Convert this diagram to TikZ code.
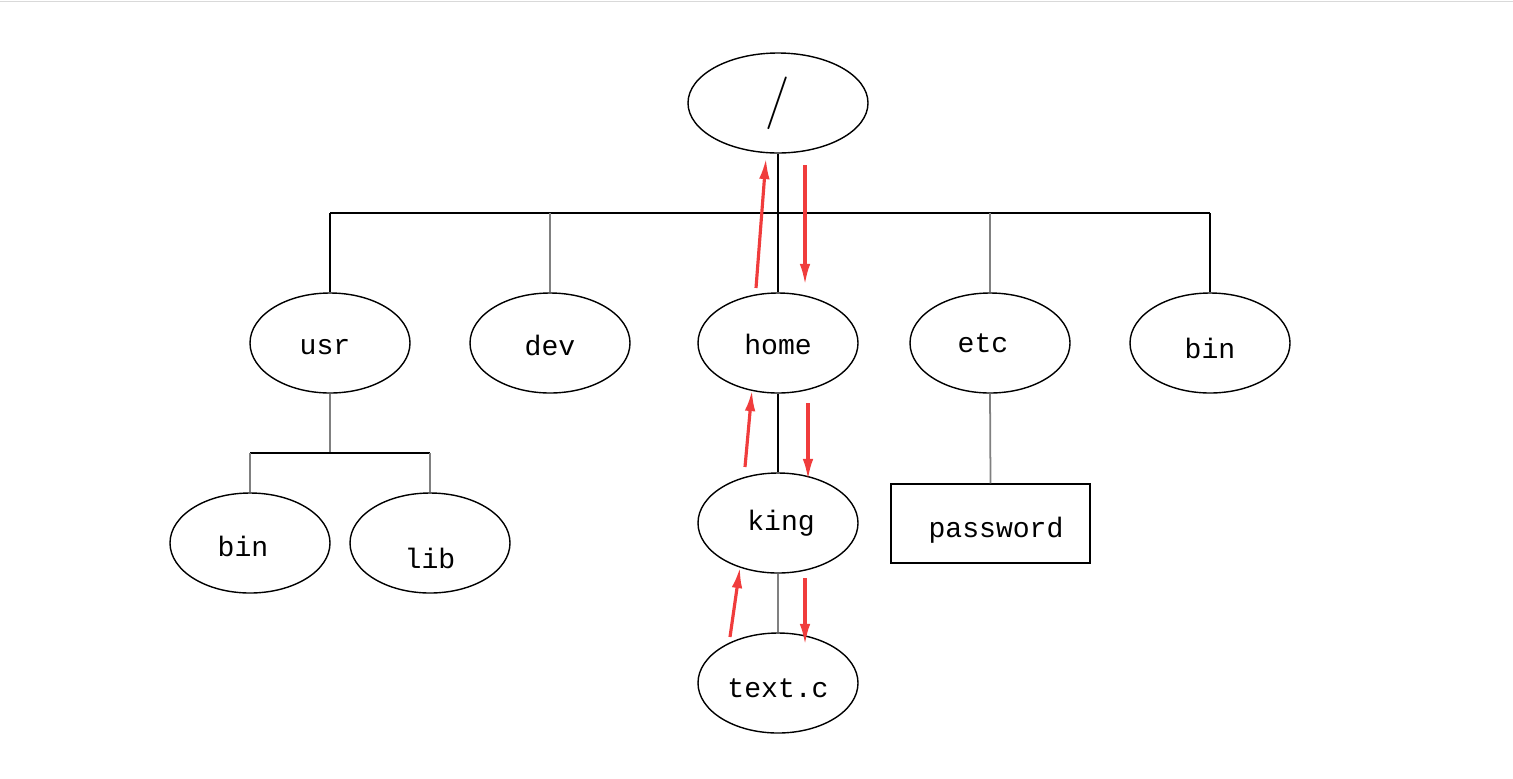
\documentclass[tikz,border=0pt]{standalone}
\usepackage{fontspec}
\setmonofont{Liberation Mono}
\usetikzlibrary{arrows.meta,shapes.geometric}
\begin{document}
\begin{tikzpicture}[x=0.02cm,y=-0.02cm,
  el/.style={draw,line width=0.8pt,ellipse,minimum width=160*0.02cm,minimum height=100*0.02cm,inner sep=0pt},
  lab/.style={font=\ttfamily\fontsize{16}{20}\selectfont},
  ln/.style={line width=1pt},
  ra/.style={draw={rgb,255:red,240;green,60;blue,60},line width=1.8pt,-{Latex[length=12pt,width=6pt]}}]
\useasboundingbox (0,0) rectangle (1513,778);
\draw[gray!30] (0,1) -- (1513,1);
\node[el,minimum width=180*0.02cm] (root) at (778,103) {};
\node[font=\fontsize{30}{34}\selectfont] at (778,103) {/};
\node[el] (usr) at (330,343) {};
\node[el] (dev) at (550,343) {};
\node[el] (home) at (778,343) {};
\node[el] (etc) at (990,343) {};
\node[el] (bin) at (1210,343) {};
\node[el] (bin2) at (250,543) {};
\node[el] (lib) at (430,543) {};
\node[el] (king) at (778,523) {};
\node[el] (textc) at (778,683) {};
\node[draw,line width=0.8pt,minimum width=199*0.02cm,minimum height=79*0.02cm] (pw) at (990.5,523.5) {};
\node[lab] at (325,347) {usr};
\node[lab] at (550,345) {dev};
\node[lab] at (778,344) {home};
\node[lab] at (983,343) {etc};
\node[lab] at (1210,348) {bin};
\node[lab] at (243,546) {bin};
\node[lab] at (430,558) {lib};
\node[lab] at (781,523) {king};
\node[lab] at (996,530) {password};
\node[lab] at (778,688) {text.c};
\coordinate (j1) at (778,213);
\coordinate (j2) at (330,453);
\draw[ln] (root.south) -- (j1);
\draw[ln] (330,213) -- (1210,213);
\draw[ln] (330,213) -- (usr.north);
\draw[ln,gray] (550,213) -- (dev.north);
\draw[ln] (j1) -- (home.north);
\draw[ln,gray] (990,213) -- (etc.north);
\draw[ln] (1210,213) -- (bin.north);
\draw[ln,gray] (usr.south) -- (j2);
\draw[ln] (250,453) -- (430,453);
\draw[ln,gray] (250,453) -- (bin2.north);
\draw[ln,gray] (430,453) -- (lib.north);
\draw[ln] (home.south) -- (king.north);
\draw[ln,gray] (king.south) -- (textc.north);
\draw[ln,gray] (etc.south) -- (pw.north);
\coordinate (a1) at (756,288); \coordinate (a2) at (766,158);
\coordinate (b1) at (805,165); \coordinate (b2) at (805,285);
\coordinate (c1) at (745,467); \coordinate (c2) at (752,390);
\coordinate (d1) at (808,403); \coordinate (d2) at (808,480);
\coordinate (e1) at (730,637); \coordinate (e2) at (740,567);
\coordinate (f1) at (805,578); \coordinate (f2) at (805,645);
\draw[ra] (a1) -- (a2);
\draw[ra] (b1) -- (b2);
\draw[ra] (c1) -- (c2);
\draw[ra] (d1) -- (d2);
\draw[ra] (e1) -- (e2);
\draw[ra] (f1) -- (f2);
\end{tikzpicture}
\end{document}
